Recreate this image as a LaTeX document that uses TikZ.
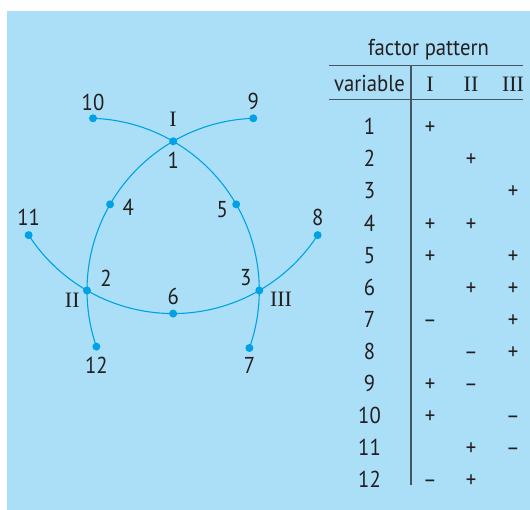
\documentclass[tikz,border=0pt]{standalone}
\usepackage{fontspec}
\setmainfont[FakeStretch=0.9]{PT Sans}
\newfontfamily\romfont{Liberation Serif}
\usepackage{tikz}
\usetikzlibrary{positioning,calc}

\definecolor{bgblue}{RGB}{171,223,248}
\definecolor{lineblue}{RGB}{0,162,228}
\definecolor{ink}{RGB}{35,31,32}
\definecolor{rulegray}{RGB}{70,85,95}

\begin{document}
\begin{tikzpicture}[
  x=1pt, y=1pt,
  dot/.style={circle, fill=lineblue, inner sep=0pt, minimum size=8pt},
  fline/.style={draw=lineblue, line width=1.1pt},
  lbl/.style={inner sep=0pt, text=ink, font=\fontsize{23}{27}\selectfont},
  rom/.style={inner sep=0pt, text=ink, font=\romfont\fontsize{22}{26}\selectfont},
  tline/.style={draw=rulegray, line width=1.4pt},
]
  \useasboundingbox (0,0) rectangle (530,510);
  \fill[bgblue] (7,0) rectangle (530,499);

  % the three factors, one vertex each
  \node[dot] (x2) at (87,219.5) {};
  \node[dot] (x3) at (259.3,219.5) {};
  \node[dot] (x1) at ([shift={(60:172.3)}]x2.center) {};

  % variables on the arcs
  \node[dot] (x10) at ([shift={(88:172.3)}]x2.center) {};
  \node[dot] (x5) at ([shift={(30:172.3)}]x2.center) {};
  \node[dot] (x7) at ([shift={(-19.5:172.3)}]x2.center) {};
  \node[dot] (x9) at ([shift={(92:172.3)}]x3.center) {};
  \node[dot] (x4) at ([shift={(150:172.3)}]x3.center) {};
  \node[dot] (x12) at ([shift={(199:172.3)}]x3.center) {};
  \node[dot] (x11) at ([shift={(213:172.3)}]x1.center) {};
  \node[dot] (x6) at ([shift={(270:172.3)}]x1.center) {};
  \node[dot] (x8) at ([shift={(327:172.3)}]x1.center) {};

  \draw[fline] (x10.center) arc[start angle=88, end angle=-19.5, radius=172.3pt];
  \draw[fline] (x9.center) arc[start angle=92, end angle=199, radius=172.3pt];
  \draw[fline] (x11.center) arc[start angle=213, end angle=327, radius=172.3pt];

  \node[lbl, above=3.5pt of x10] (l10) {10};
  \node[lbl, above=4.5pt of x9] (l9) {9};
  \node[rom, above=10pt of x1] (fI) {I};
  \node[lbl, below=6pt of x1] (l1) {1};
  \node[lbl, right=8.2pt of x4, yshift=-3.3pt] (l4) {4};
  \node[lbl, left=4pt of x5, yshift=-5pt] (l5) {5};
  \node[lbl, above=5.3pt of x11] (l11) {11};
  \node[lbl, above=5.3pt of x8] (l8) {8};
  \node[lbl, right=9pt of x2, yshift=11.7pt] (l2) {2};
  \node[rom, left=3pt of x2, yshift=-9.5pt] (fII) {II};
  \node[lbl, left=3.6pt of x3, yshift=12.7pt] (l3) {3};
  \node[rom, right=6.3pt of x3, yshift=-8.5pt] (fIII) {III};
  \node[lbl, above=4.7pt of x6] (l6) {6};
  \node[lbl, below=6.3pt of x12] (l12) {12};
  \node[lbl, below=5.4pt of x7] (l7) {7};

  % factor pattern table
  \node[lbl, anchor=base] (title) at (428.5,454) {factor pattern};
  \node[lbl, anchor=base] (hvar) at (369.5,418) {variable};
  \node[rom, anchor=base] (hI) at (430,418) {I};
  \node[rom, anchor=base] (hII) at (471,418) {II};
  \node[rom, anchor=base] (hIII) at (513,418) {III};
  \draw[tline] (329,444.3) -- (523,444.3);
  \draw[tline] (329,410.7) -- (523,410.7);
  \draw[tline] (411,444.3) -- (411,25);

  \foreach \r in {1,...,12}
    \node[lbl, anchor=base] (v\r) at (369.5,{375.2-(\r-1)*32.09}) {\r};
  \foreach \r/\c/\s in {1/I/+, 2/II/+, 3/III/+, 4/I/+, 4/II/+, 5/I/+, 5/III/+,
      6/II/+, 6/III/+, 7/I/–, 7/III/+, 8/II/–, 8/III/+, 9/I/+, 9/II/–,
      10/I/+, 10/III/–, 11/II/+, 11/III/–, 12/I/–, 12/II/+}
    \node[lbl, anchor=base] (s\r-\c) at (h\c |- v\r.base) {\s};
\end{tikzpicture}
\end{document}
